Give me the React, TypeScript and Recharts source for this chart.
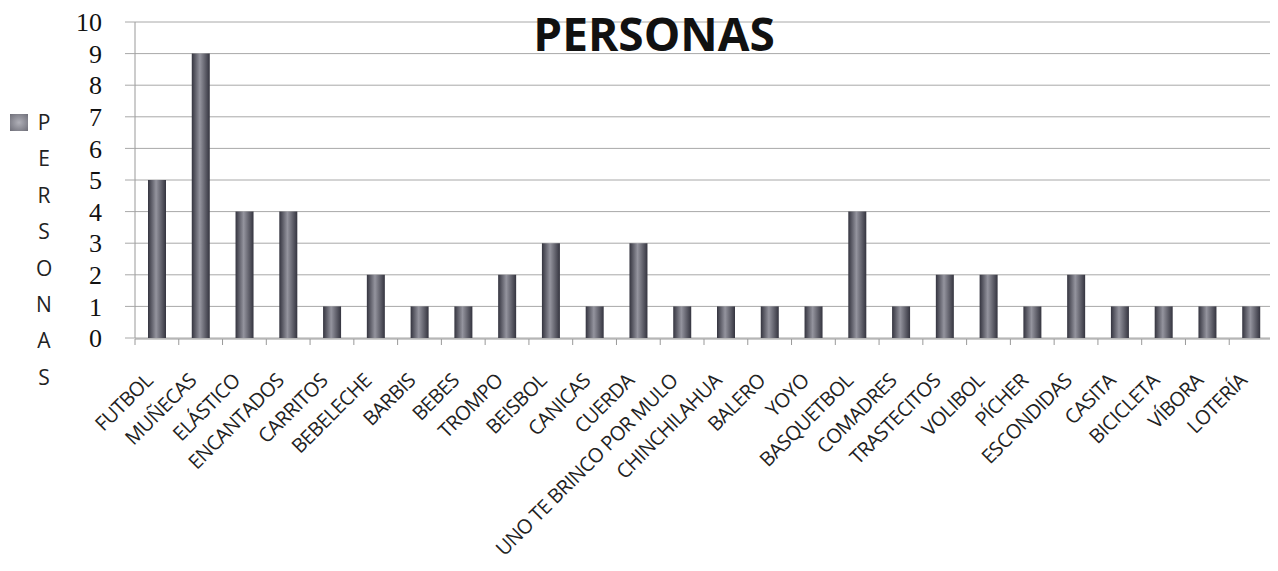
import {
  BarChart,
  Bar,
  XAxis,
  YAxis,
  CartesianGrid,
} from "recharts";

const categories = [
  "FUTBOL",
  "MUÑECAS",
  "ELÁSTICO",
  "ENCANTADOS",
  "CARRITOS",
  "BEBELECHE",
  "BARBIS",
  "BEBES",
  "TROMPO",
  "BEISBOL",
  "CANICAS",
  "CUERDA",
  "UNO TE BRINCO POR MULO",
  "CHINCHILAHUA",
  "BALERO",
  "YOYO",
  "BASQUETBOL",
  "COMADRES",
  "TRASTECITOS",
  "VOLIBOL",
  "PÍCHER",
  "ESCONDIDAS",
  "CASITA",
  "BICICLETA",
  "VÍBORA",
  "LOTERÍA",
];

const personas = [5, 9, 4, 4, 1, 2, 1, 1, 2, 3, 1, 3, 1, 1, 1, 1, 4, 1, 2, 2, 1, 2, 1, 1, 1, 1];

const yTicks = [0, 1, 2, 3, 4, 5, 6, 7, 8, 9, 10];

const seriesName = "PERSONAS";

const data = categories.map((name, i) => ({ name, value: personas[i], pos: i + 0.5 }));
const edgeTicks = categories.map((_, i) => i).concat(categories.length);

const CategoryTick = (props: any) => {
  const { x, y, payload } = props;
  return (
    <g transform={`translate(${x - 3},${y + 36})`}>
      <text
        transform="rotate(-45)"
        textAnchor="end"
        fontFamily="'Open Sans', sans-serif"
        fontSize={20}
        letterSpacing={-0.6}
        fill="#222"
      >
        {payload.value}
      </text>
    </g>
  );
};

export default function App() {
  return (
    <div style={{ position: "relative", width: 1270, height: 563 }}>
      <BarChart
        width={1270}
        height={563}
        data={data}
        margin={{ top: 14, right: 5, bottom: 231, left: 68 }}
      >
        <defs>
          <linearGradient id="barFill" x1="0" y1="0" x2="1" y2="0">
            <stop offset="0%" stopColor="#34343f" />
            <stop offset="45%" stopColor="#94949e" />
            <stop offset="100%" stopColor="#34343f" />
          </linearGradient>
        </defs>
        <CartesianGrid vertical={false} stroke="#a8a8a8" />
        <XAxis
          dataKey="name"
          interval={0}
          tick={<CategoryTick />}
          tickLine={false}
          axisLine={false}
          height={1}
        />
        <XAxis
          xAxisId="edges"
          type="number"
          dataKey="pos"
          domain={[0, categories.length]}
          ticks={edgeTicks}
          interval={0}
          tickFormatter={() => ""}
          tick={{ fontSize: 1 }}
          tickSize={6}
          tickLine={{ stroke: "#999" }}
          axisLine={{ stroke: "#999" }}
          height={1}
        />
        <YAxis
          domain={[0, 10]}
          ticks={yTicks}
          interval={0}
          width={59}
          tickSize={10}
          tickMargin={23}
          tickLine={{ stroke: "#a8a8a8" }}
          axisLine={{ stroke: "#999" }}
          tick={{ fontFamily: "'Liberation Serif', serif", fontSize: 26, fill: "#111" }}
        />
        <Bar
          dataKey="value"
          name={seriesName}
          fill="url(#barFill)"
          barSize={18}
          isAnimationActive={false}
        />
        <text
          x={646}
          y={43}
          textAnchor="middle"
          fontFamily="'Open Sans', sans-serif"
          fontWeight="bold"
          fontSize={46}
          fill="#111"
        >
          {seriesName}
        </text>
      </BarChart>
      <div
        style={{
          position: "absolute",
          left: 2,
          top: 96,
          fontFamily: "'Open Sans', sans-serif",
          fontSize: 21,
          color: "#222",
        }}
      >
        {seriesName.split("").map((ch, i) => (
          <div key={i} style={{ height: 36.4, lineHeight: "36.4px", display: "flex", alignItems: "center" }}>
            <span
              style={{
                display: "inline-block",
                width: 18,
                height: 17,
                marginRight: 8,
                background: i === 0 ? "radial-gradient(#b0b0b8, #6e6e78)" : "transparent",
              }}
            />
            <span style={{ width: 16, textAlign: "center" }}>{ch}</span>
          </div>
        ))}
      </div>
    </div>
  );
}
